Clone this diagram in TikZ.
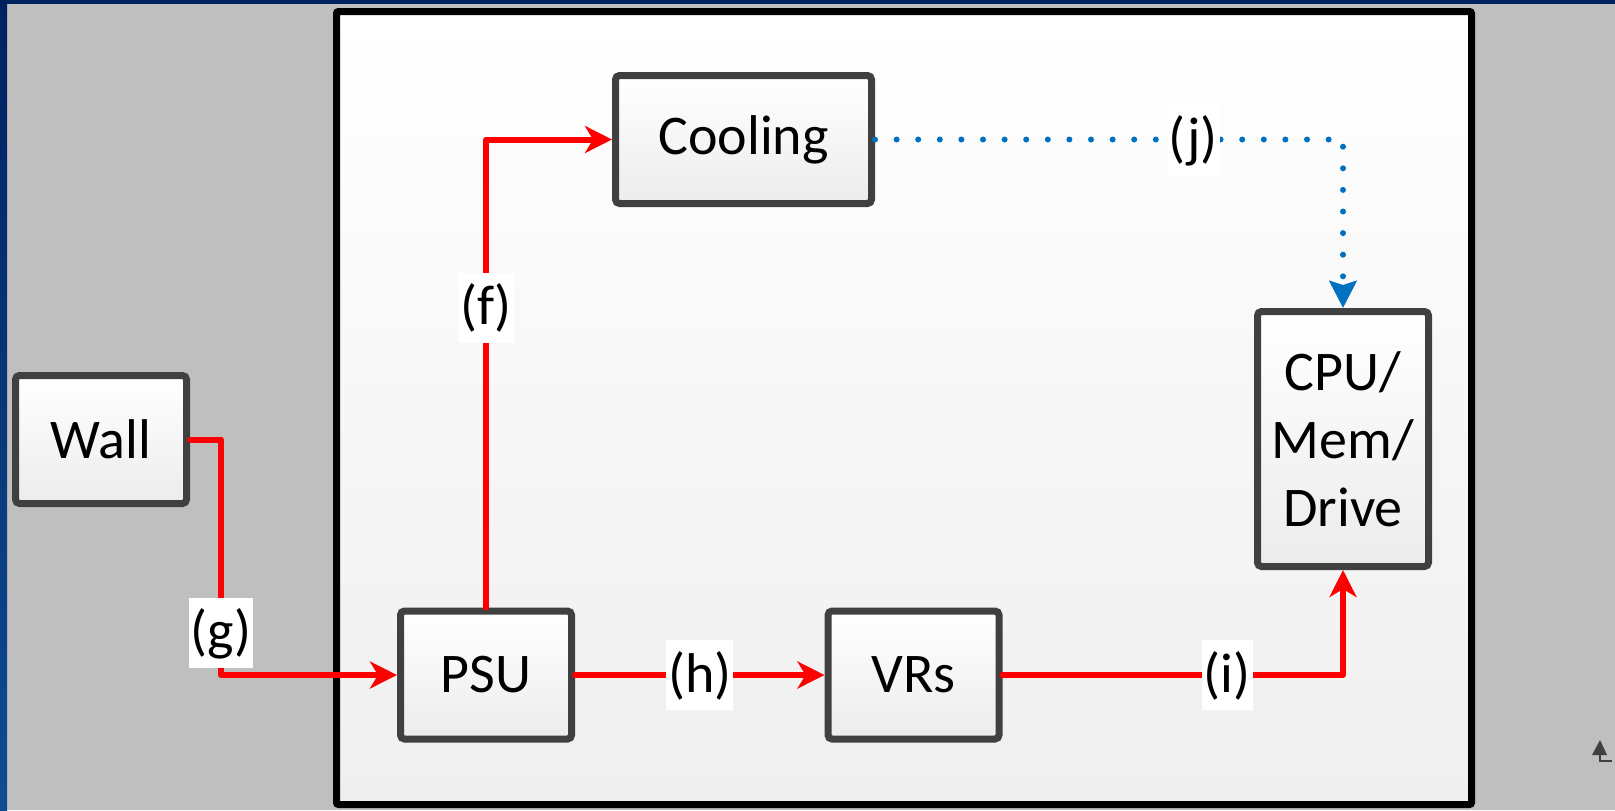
\documentclass[tikz,border=0pt]{standalone}
\usepackage{fontspec}
\setmainfont{Carlito}
\usepackage{tikz}
\usetikzlibrary{arrows.meta,positioning,calc}
\definecolor{pwred}{HTML}{FF0000}
\definecolor{coolblue}{HTML}{0070C0}
\definecolor{boxgray}{HTML}{404040}
\definecolor{boxfade}{HTML}{ECECEC}
\definecolor{bggray}{HTML}{BFBFBF}
\definecolor{panelfade}{HTML}{EFEFEF}
\definecolor{navy}{HTML}{00215F}
\definecolor{navylight}{HTML}{0F4C91}

\begin{document}
\begin{tikzpicture}[
    x=0.5pt,y=-0.5pt,
    blk/.style  = {rectangle,rounded corners=2pt,draw=boxgray,line width=3.5pt,
                   top color=white,bottom color=boxfade,align=center,inner sep=0pt,
                   font=\fontsize{28}{34}\selectfont,minimum width=85.5pt,minimum height=64pt},
    lbl/.style  = {fill=white,text=black,inner xsep=1pt,inner ysep=2pt,text height=24pt,
                   text depth=7pt,font=\fontsize{28}{34}\selectfont},
    pw/.style   = {-{Stealth[length=13.5pt,width=13.5pt,inset=4pt]},pwred,line width=3pt,
                   line cap=round,line join=round},
    cl/.style   = {-{Stealth[length=13.5pt,width=13.5pt,inset=2pt]},coolblue,line width=3pt,
                   line cap=round,dash pattern=on 0pt off 10.8pt},
  ]

  \useasboundingbox (0,0) rectangle (1615,810);
  \fill[bggray] (0,0) rectangle (1615,810);
  \shade[top color=navy,bottom color=navylight] (0,0) rectangle (7,810);
  \fill[navy] (0,0) rectangle (1615,4);

  \shade[top color=white,bottom color=panelfade] (336.5,11.5) rectangle (1471.5,804.5);
  \draw[line width=3.5pt,rounded corners=1pt] (336.5,11.5) rectangle (1471.5,804.5);

  \node[blk] (wall) at (101,439.5)  {Wall};
  \node[blk,minimum width=128pt] (cool) at (743.5,139.5) {Cooling};
  \node[blk] (psu)  at (486,675)    {PSU};
  \node[blk] (vrs)  at (913.5,675)  {VRs};
  \node[blk,minimum height=127.5pt] (cpu) at (1343,439) {CPU/\\Mem/\\Drive};

  \draw[pw] (wall.east) -- ++(31,0) |- node[lbl,pos=0.41] {(g)} (psu.west);
  \draw[pw] (psu.north) |- node[lbl,pos=0.32] {(f)} (cool.west);
  \draw[pw] (psu.east) -- node[lbl] {(h)} (vrs.west);
  \draw[pw] (vrs.east) -| node[lbl,pos=0.33] {(i)} (cpu.south);
  \draw[cl] (cool.east) -| node[lbl,pos=0.34] {(j)} (cpu.north);

  \fill[boxgray] (1600,740) -- (1607,755) -- (1592,755) -- cycle;
  \draw[boxgray,line width=0.7pt] (1600,754) -- (1600,761) -- (1612,761);

\end{tikzpicture}
\end{document}
